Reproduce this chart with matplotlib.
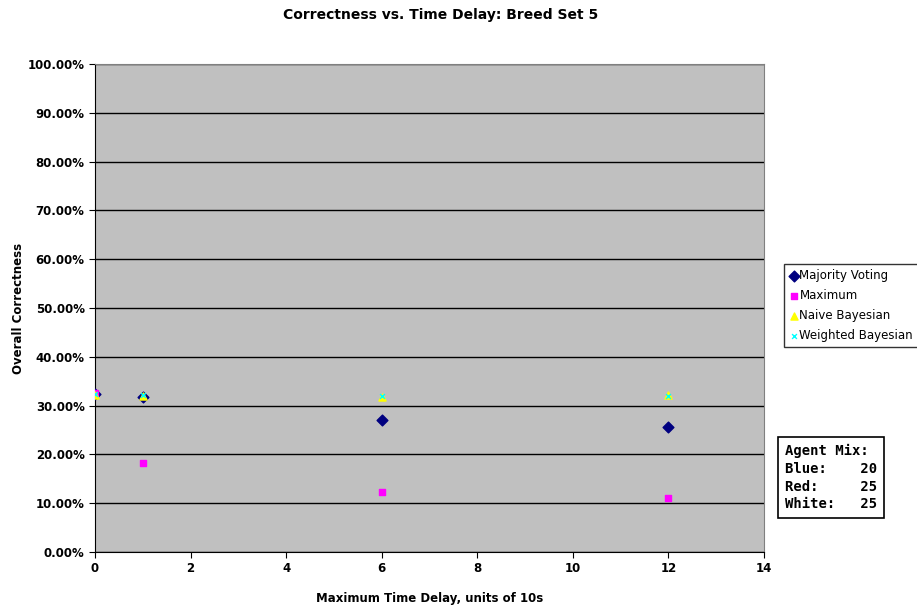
import matplotlib.pyplot as plt
from matplotlib.ticker import FuncFormatter

# data
delays = [0, 1, 6, 12]
majority = [32.4, 31.8, 27.0, 25.6]
maximum = [32.6, 18.2, 12.3, 11.0]
naive = [32.2, 32.0, 31.8, 32.1]
weighted = [32.3, 32.1, 32.0, 32.0]

fig = plt.figure(figsize=(9.17, 6.06), dpi=100)
ax = fig.add_axes([0.1036, 0.0891, 0.7296, 0.8053])
ax.set_facecolor('#C0C0C0')

ax.scatter(delays, majority, marker='D', s=30, color='#000080', label='Majority Voting', zorder=3)
ax.scatter(delays, maximum, marker='s', s=22, color='#FF00FF', label='Maximum', zorder=3)
ax.scatter(delays, naive, marker='^', s=26, color='#FFFF00', label='Naive Bayesian', zorder=4)
ax.scatter(delays, weighted, marker='x', s=12, color='#00FFFF', linewidths=1, label='Weighted Bayesian', zorder=5)

ax.set_xlim(0, 14)
ax.set_ylim(0, 100)
ax.set_xticks(range(0, 15, 2))
ax.set_yticks(range(0, 101, 10))
ax.yaxis.set_major_formatter(FuncFormatter(lambda v, p: '%.2f%%' % v))
ax.yaxis.grid(True, color='black', linewidth=1)
ax.set_axisbelow(True)
for s in ['top', 'right']:
    ax.spines[s].set_color('#808080')
ax.tick_params(direction='out', length=4, labelsize=8.5)
for lab in ax.get_xticklabels() + ax.get_yticklabels():
    lab.set_fontweight('bold')

ax.set_xlabel('Maximum Time Delay, units of 10s', fontsize=8.5, fontweight='bold', labelpad=12)
ax.set_ylabel('Overall Correctness', fontsize=8.5, fontweight='bold', labelpad=2)
fig.text(0.48, 0.975, 'Correctness vs. Time Delay: Breed Set 5', ha='center', va='center',
         fontsize=10, fontweight='bold')

leg = ax.legend(loc='center left', bbox_to_anchor=(1.03, 0.505), frameon=True, fancybox=False,
                edgecolor='black', fontsize=8.5, handletextpad=0.1, borderpad=0.4,
                labelspacing=0.6, handlelength=0.8, borderaxespad=0)
leg.get_frame().set_linewidth(1)

fig.text(0.856, 0.212, 'Agent Mix:\nBlue:    20\nRed:     25\nWhite:   25', family='monospace',
         fontsize=10, fontweight='bold', va='center', ha='left', linespacing=1.35,
         bbox=dict(boxstyle='square,pad=0.5', facecolor='white', edgecolor='black', linewidth=1.2))

fig.savefig('out.png', dpi=100)
